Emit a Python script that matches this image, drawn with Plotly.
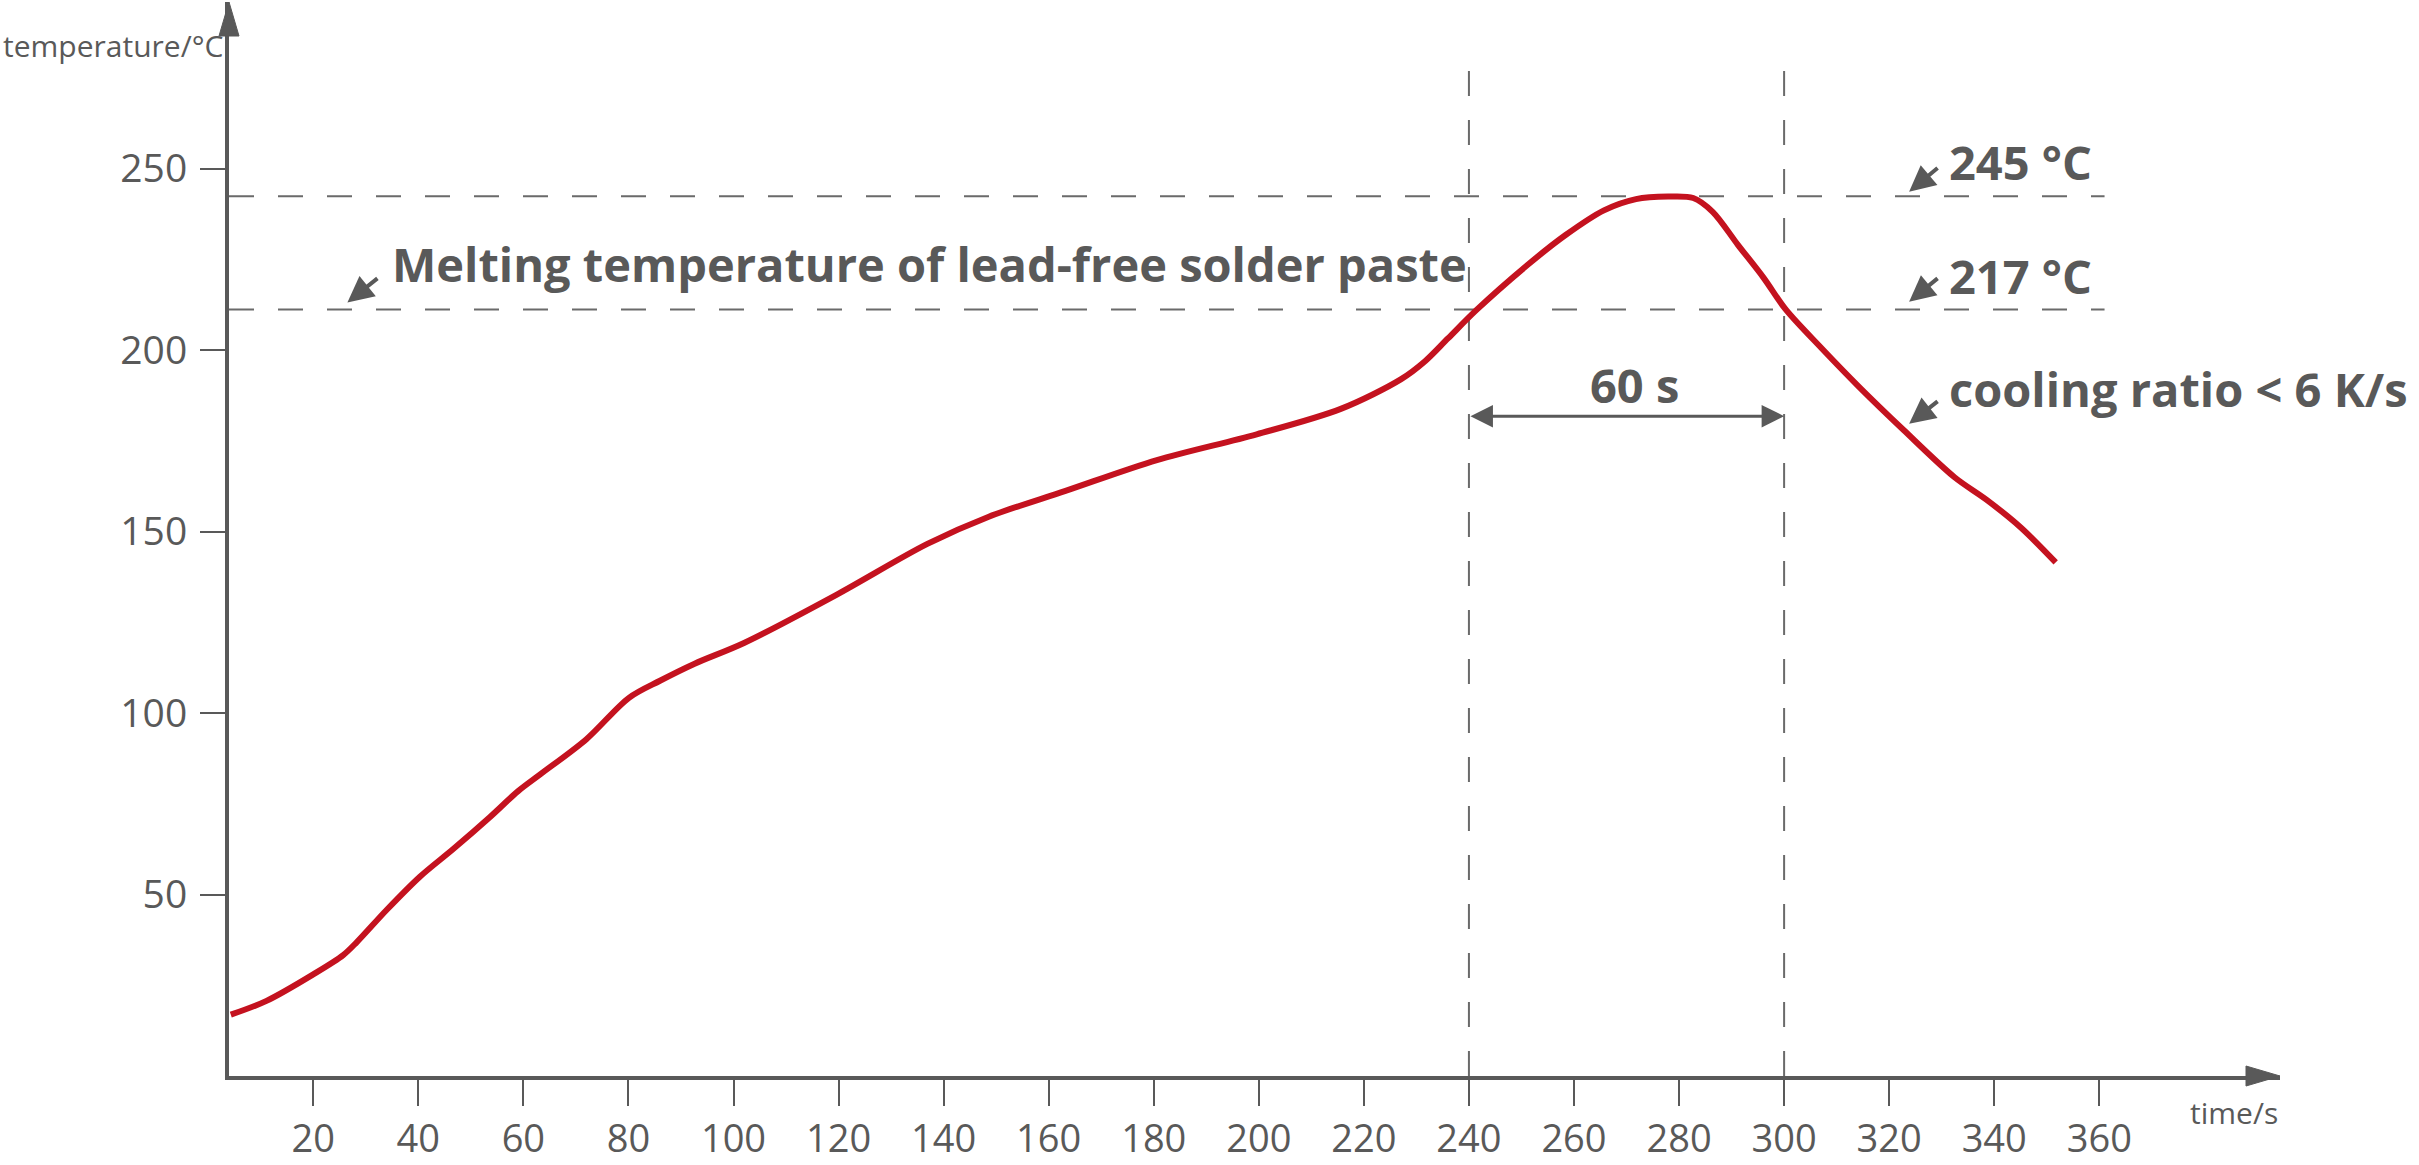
import plotly.graph_objects as go

# ---- data ----
time_s = [4.3, 11.1, 20.0, 25.7, 28.3, 34.0, 40.3, 46.7, 53.6, 59.0, 63.2, 72.0, 80.1, 86.0,
          92.6, 102.0, 119.5, 136.9, 148.6, 163.2, 180.6, 199.6, 215.6, 227.1, 231.7, 236.0,
          241.4, 251.2, 258.4, 265.7, 271.8, 277.9, 282.7, 286.4, 291.2, 296.1, 300.3, 307.0,
          314.3, 322.8, 332.5, 338.5, 345.0, 351.7]
temp_c = [16.9, 20.7, 28.0, 33.3, 36.9, 45.8, 54.9, 62.6, 71.3, 78.5, 83.1, 92.8, 104.2, 108.9,
          113.6, 119.3, 132.5, 146.6, 154.1, 161.2, 169.7, 176.8, 183.8, 192.0, 197.0, 203.2,
          211.0, 223.5, 231.7, 238.5, 241.6, 242.3, 241.9, 238.1, 229.0, 219.9, 211.2, 200.7,
          189.8, 177.9, 164.9, 158.8, 151.2, 141.5]

x_ticks = [20, 40, 60, 80, 100, 120, 140, 160, 180, 200, 220, 240, 260, 280, 300, 320, 340, 360]
y_ticks = [50, 100, 150, 200, 250]

peak_line = 242.4      # drawn "245 °C" guide
melt_line = 211.2      # drawn "217 °C" guide
window = [240, 300]    # time above liquidus
labels = {"peak": "245 °C", "melt": "217 °C", "cool": "cooling ratio &lt; 6 K/s",
          "window": "60 s", "melting": "Melting temperature of lead-free solder paste"}

GRAY = "#595959"
DASH = "#6a6a6a"
RED = "#C4121F"
FONT = "Open Sans"

X_RANGE = [3.96, 394.4]
Y_RANGE = [0, 295.9]

fig = go.Figure()
fig.add_trace(go.Scatter(x=time_s, y=temp_c, mode="lines",
                         line=dict(color=RED, width=6, shape="spline", smoothing=0.9),
                         hoverinfo="skip", showlegend=False))

shapes = []
for yv in (peak_line, melt_line):
    shapes.append(dict(type="line", xref="x", yref="y", x0=X_RANGE[0], x1=361, y0=yv, y1=yv,
                       line=dict(color=DASH, width=2, dash="25px,24px"), layer="below"))
for xv in window:
    shapes.append(dict(type="line", xref="x", yref="y", x0=xv, x1=xv, y0=0, y1=280.4,
                       line=dict(color=DASH, width=2, dash="25px,24px"), layer="below"))
# axis arrow heads
shapes.append(dict(type="path", xref="paper", yref="paper", xsizemode="pixel", ysizemode="pixel",
                   xanchor=1, yanchor=0, path="M -34 -10 L 0 0 L -34 10 Z",
                   fillcolor=GRAY, line=dict(color=GRAY, width=1)))
shapes.append(dict(type="path", xref="paper", yref="paper", xsizemode="pixel", ysizemode="pixel",
                   xanchor=0, yanchor=1, path="M -10 -34 L 0 0 L 10 -34 Z",
                   fillcolor=GRAY, line=dict(color=GRAY, width=1)))

ann = []
bold = dict(family=FONT, size=47, color=GRAY, weight="bold")
ann.append(dict(x=331.0, y=251.7, text=labels["peak"], showarrow=False, xanchor="left",
                yanchor="middle", font=bold))
ann.append(dict(x=331.0, y=220.4, text=labels["melt"], showarrow=False, xanchor="left",
                yanchor="middle", font=bold))
ann.append(dict(x=331.0, y=189.2, text=labels["cool"], showarrow=False, xanchor="left",
                yanchor="middle", font=bold))
ann.append(dict(x=271.5, y=190.5, text=labels["window"], showarrow=False, xanchor="center",
                yanchor="middle", font=bold))
ann.append(dict(x=34.6, y=223.7, text=labels["melting"], showarrow=False, xanchor="left",
                yanchor="middle", font=bold))

# small pointer arrows
for (hx, hy, tx, ty) in [(323.8, 243.6, 329.5, 250.5), (323.8, 213.3, 329.5, 220.1),
                         (323.8, 179.7, 329.5, 186.2), (26.5, 213.1, 32.5, 220.1)]:
    ann.append(dict(x=hx, y=hy, ax=tx, ay=ty, axref="x", ayref="y", xref="x", yref="y",
                    text="", showarrow=True, arrowhead=2, arrowsize=1.3, arrowwidth=4,
                    arrowcolor=GRAY, standoff=0, startstandoff=0))
# 60 s double arrow
ann.append(dict(x=window[1], y=181.8, ax=window[0], ay=181.8, axref="x", ayref="y",
                xref="x", yref="y", text="", showarrow=True, arrowside="end+start",
                arrowhead=2, startarrowhead=2, arrowsize=1.5, startarrowsize=1.5,
                arrowwidth=3, arrowcolor=GRAY, standoff=0, startstandoff=0))

# axis titles
ann.append(dict(xref="paper", yref="paper", x=0, y=1, xshift=-4, yshift=-43,
                text="temperature/°C", showarrow=False, xanchor="right", yanchor="middle",
                font=dict(family=FONT, size=30, color=GRAY)))
ann.append(dict(xref="paper", yref="paper", x=1, y=0, xshift=0, yshift=-36,
                text="time/s", showarrow=False, xanchor="right", yanchor="middle",
                font=dict(family=FONT, size=30, color=GRAY)))

fig.update_layout(
    width=2419, height=1165,
    margin=dict(l=229, r=139, t=2, b=81, pad=0),
    paper_bgcolor="white", plot_bgcolor="white",
    shapes=shapes, annotations=ann, showlegend=False,
    xaxis=dict(range=X_RANGE, tickvals=x_ticks, ticktext=[str(v) for v in x_ticks],
               showgrid=False, zeroline=False, showline=True, linewidth=4, linecolor=GRAY,
               ticks="outside", ticklen=26, tickwidth=2, tickcolor=GRAY,
               tickfont=dict(family=FONT, size=38, color=GRAY), fixedrange=True),
    yaxis=dict(range=Y_RANGE, tickvals=y_ticks, ticktext=[str(v) for v in y_ticks],
               showgrid=False, zeroline=False, showline=True, linewidth=4, linecolor=GRAY,
               ticks="outside", ticklen=25, tickwidth=2, tickcolor=GRAY,
               ticklabelstandoff=5,
               tickfont=dict(family=FONT, size=39, color=GRAY), fixedrange=True),
)

fig.write_html("out.html", config={"displayModeBar": False, "staticPlot": True},
               post_script="document.body.style.margin='0';document.body.style.overflow='hidden';")
